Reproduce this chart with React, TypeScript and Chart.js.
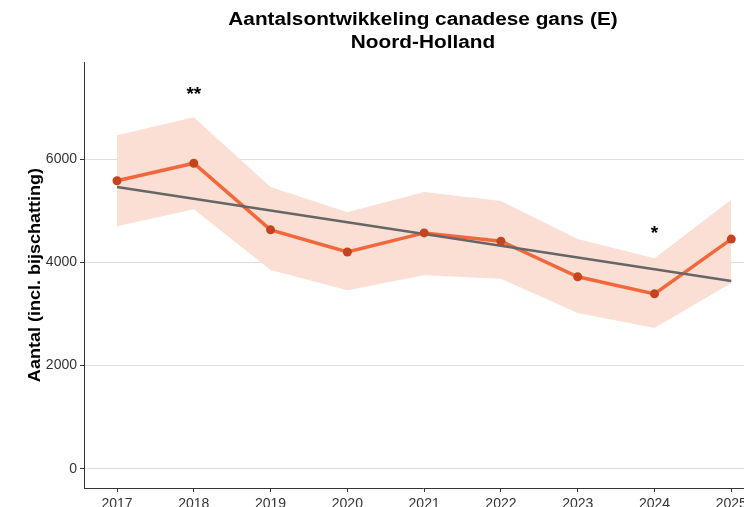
import React, { useEffect, useRef } from "react";
import { Chart, registerables } from "chart.js";

Chart.register(...registerables);

const titleLines = ["Aantalsontwikkeling canadese gans (E)", "Noord-Holland"];
const yAxisLabel = "Aantal (incl. bijschatting)";
const years = [2017, 2018, 2019, 2020, 2021, 2022, 2023, 2024, 2025];
const counts = [5580, 5920, 4630, 4200, 4570, 4410, 3720, 3390, 4450];
const upper = [6460, 6810, 5460, 4970, 5360, 5190, 4450, 4080, 5210];
const lower = [4700, 5030, 3850, 3460, 3750, 3680, 3020, 2730, 3600];
const trend = [5460, 5230, 5005, 4778, 4550, 4320, 4095, 3868, 3640];
const yTicks = [0, 2000, 4000, 6000];
const sigYears = [2018, 2024];
const sigValues = [7250, 4550];
const sigLabels = ["**", "*"];

const FONT = "'Liberation Sans', Arial, sans-serif";

const pts = (vals: number[]) => years.map((y, i) => ({ x: y, y: vals[i] }));

const textPlugin = {
  id: "textPlugin",
  afterDatasetsDraw(chart: any) {
    const { ctx, scales } = chart;
    ctx.save();
    ctx.fillStyle = "#000";
    ctx.font = `bold 19px ${FONT}`;
    ctx.textAlign = "center";
    ctx.textBaseline = "middle";
    sigYears.forEach((yr, i) => {
      ctx.fillText(sigLabels[i], scales.x.getPixelForValue(yr), scales.y.getPixelForValue(sigValues[i]));
    });
    ctx.restore();
  },
  afterDraw(chart: any) {
    const { ctx, chartArea } = chart;
    ctx.save();
    ctx.fillStyle = "#000";
    ctx.textAlign = "center";
    ctx.textBaseline = "alphabetic";
    ctx.font = `bold 18px ${FONT}`;
    const cx = (chartArea.left + chartArea.right) / 2;
    const stretch = 1.155;
    ctx.save();
    ctx.translate(cx, 0);
    ctx.scale(stretch, 1);
    ctx.fillText(titleLines[0], 0, 25);
    ctx.fillText(titleLines[1], 0, 48);
    ctx.restore();
    // y axis title
    ctx.translate(35, (chartArea.top + chartArea.bottom) / 2);
    ctx.rotate(-Math.PI / 2);
    ctx.scale(1.06, 1);
    ctx.textBaseline = "middle";
    ctx.font = `bold 17px ${FONT}`;
    ctx.fillText(yAxisLabel, 0, 0);
    ctx.restore();
  },
};

export default function App() {
  const ref = useRef<HTMLCanvasElement | null>(null);
  useEffect(() => {
    if (!ref.current) return;
    const chart = new Chart(ref.current, {
      type: "line",
      data: {
        datasets: [
          {
            data: pts(upper),
            borderWidth: 0,
            pointRadius: 0,
            backgroundColor: "rgba(251,223,213,1)",
            fill: "+1",
            tension: 0,
            order: 5,
          },
          {
            data: pts(lower),
            borderWidth: 0,
            pointRadius: 0,
            fill: false,
            tension: 0,
            order: 4,
          },
          {
            data: pts(counts),
            borderColor: "#F2683A",
            borderWidth: 3.5,
            pointRadius: 0,
            fill: false,
            tension: 0,
            order: 3,
          },
          {
            data: pts(trend),
            borderColor: "#666666",
            borderWidth: 2.5,
            pointRadius: 0,
            fill: false,
            tension: 0,
            order: 2,
          },
          {
            data: pts(counts),
            showLine: false,
            pointRadius: 4.5,
            pointBackgroundColor: "#C4441E",
            pointBorderWidth: 0,
            fill: false,
            order: 1,
          },
        ],
      },
      options: {
        animation: false,
        responsive: true,
        maintainAspectRatio: false,
        events: [],
        layout: { padding: { top: 62, right: 18, left: 0, bottom: 0 } },
        plugins: { legend: { display: false }, tooltip: { enabled: false }, title: { display: false } },
        scales: {
          x: {
            type: "linear",
            min: 2016.57,
            max: 2025.4,
            afterBuildTicks: (s: any) => {
              s.ticks = years.map((v) => ({ value: v }));
            },
            afterFit: (s: any) => {
              s.height = 19;
            },
            ticks: {
              color: "#333",
              font: { family: FONT, size: 14 },
              padding: 4,
              maxRotation: 0,
              autoSkip: false,
              callback: (v: any) => String(v),
            },
            grid: { drawOnChartArea: false, drawTicks: true, tickLength: 4, tickColor: "#333" },
            border: { color: "#333", width: 1 },
          },
          y: {
            type: "linear",
            min: -370,
            max: 7880,
            afterBuildTicks: (s: any) => {
              s.ticks = yTicks.map((v) => ({ value: v }));
            },
            afterFit: (s: any) => {
              s.width = 84;
            },
            ticks: {
              color: "#333",
              font: { family: FONT, size: 14 },
              padding: 3,
              callback: (v: any) => String(v),
            },
            grid: { color: "#dedede", lineWidth: 1, tickLength: 4, tickColor: "#333" },
            border: { color: "#333", width: 1 },
          },
        },
      },
      plugins: [textPlugin],
    } as any);
    return () => chart.destroy();
  }, []);
  return (
    <div style={{ position: "fixed", left: 0, top: 0, width: 744, height: 507, overflow: "hidden", background: "#fff" }}>
      <div style={{ position: "relative", width: 780, height: 507 }}>
        <canvas ref={ref} />
      </div>
    </div>
  );
}
